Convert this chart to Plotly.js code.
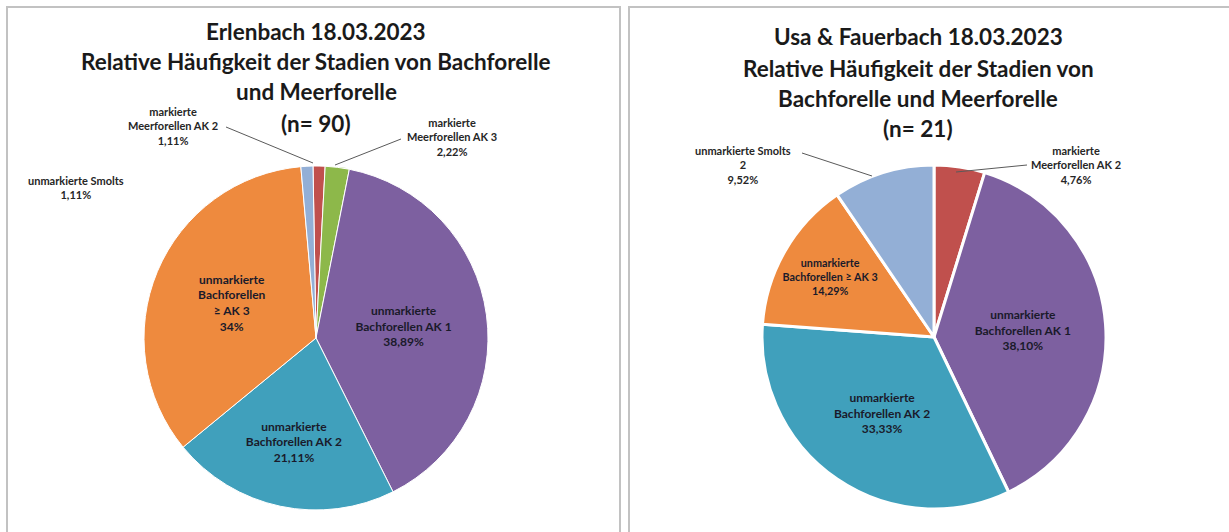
<!DOCTYPE html>
<html><head><meta charset="utf-8">
<script src="https://cdn.plot.ly/plotly-3.0.1.min.js"></script>
<style>html,body{margin:0;padding:0;background:#fff;overflow:hidden}#chart{width:1229px;height:532px}</style>
</head><body><div id="chart"></div>
<script>
// ---------- DATA ----------
const leftTitleLines = ["Erlenbach 18.03.2023", "Relative Häufigkeit der Stadien von Bachforelle", "und Meerforelle", "(n= 90)"];
const leftCategories = ["markierte Meerforellen AK 2", "markierte Meerforellen AK 3", "unmarkierte Bachforellen AK 1", "unmarkierte Bachforellen AK 2", "unmarkierte Bachforellen ≥ AK 3", "unmarkierte Smolts"];
const leftLabelText = ["markierte<br>Meerforellen AK 2", "markierte<br>Meerforellen AK 3", "unmarkierte<br>Bachforellen AK 1", "unmarkierte<br>Bachforellen AK 2", "unmarkierte<br>Bachforellen<br>≥ AK 3", "unmarkierte Smolts"];
const leftValues = [1.11, 2.22, 38.89, 21.11, 34, 1.11];

const rightTitleLines = ["Usa & Fauerbach 18.03.2023", "Relative Häufigkeit der Stadien von", "Bachforelle und Meerforelle", "(n= 21)"];
const rightCategories = ["markierte Meerforellen AK 2", "unmarkierte Bachforellen AK 1", "unmarkierte Bachforellen AK 2", "unmarkierte Bachforellen ≥ AK 3", "unmarkierte Smolts"];
const rightLabelText = ["markierte<br>Meerforellen AK 2", "unmarkierte<br>Bachforellen AK 1", "unmarkierte<br>Bachforellen AK 2", "unmarkierte<br>Bachforellen ≥ AK 3", "unmarkierte Smolts<br>2"];
const rightValues = [4.76, 38.10, 33.33, 14.29, 9.52];

// ---------- STYLE ----------
const W = 1229, H = 532;
const FONT = "Lato, 'Open Sans', sans-serif";
const colorOf = {
  "markierte Meerforellen AK 2": "#C0504D",
  "markierte Meerforellen AK 3": "#8DB84A",
  "unmarkierte Bachforellen AK 1": "#7D60A0",
  "unmarkierte Bachforellen AK 2": "#40A0BC",
  "unmarkierte Bachforellen ≥ AK 3": "#EE8A3E",
  "unmarkierte Smolts": "#93AFD6"
};
const px = x => x / W;
const py = y => 1 - y / H;
const pct = v => v.toFixed(2).replace(".", ",").replace(",00", "") + "%";

function pieTrace(cats, vals, labels, outsideIdx, cx, cy, r, lineW) {
  return {
    type: "pie", sort: false, direction: "clockwise", rotation: 0,
    labels: cats, values: vals,
    text: labels.map((l, i) => l + "<br>" + pct(vals[i])),
    textinfo: "text",
    textposition: cats.map((c, i) => outsideIdx.includes(i) ? "none" : "inside"),
    insidetextorientation: "horizontal",
    insidetextfont: {family: FONT, size: 12, color: "#1a1a2a", weight: "bold"},
    marker: {colors: cats.map(c => colorOf[c]), line: {color: "#ffffff", width: lineW}},
    domain: {x: [px(cx - r), px(cx + r)], y: [py(cy + r), py(cy - r)]},
    showlegend: false, hoverinfo: "label+percent"
  };
}

const left = pieTrace(leftCategories, leftValues, leftLabelText, [0, 1, 5], 316, 338, 172, 1);
left.rotation = -1;
const right = pieTrace(rightCategories, rightValues, rightLabelText, [0, 4], 934, 337, 172, 3);

const annotations = [];
function titleAnn(lines, cx, ys) {
  lines.forEach((t, i) => annotations.push({
    xref: "paper", yref: "paper", x: px(cx), y: py(ys[i]), xanchor: "center", yanchor: "middle",
    text: "<b>" + t + "</b>", showarrow: false, font: {family: FONT, size: 22.5, color: "#1a1a1a"}
  }));
}
titleAnn(leftTitleLines, 316, [31, 61, 92, 124]);
titleAnn(rightTitleLines, 918, [36, 68, 99, 128]);

function outLabel(labels, vals, i, x, y) {
  annotations.push({
    xref: "paper", yref: "paper", x: px(x), y: py(y), xanchor: "center", yanchor: "middle",
    text: "<b>" + labels[i] + "<br>" + pct(vals[i]) + "</b>", showarrow: false,
    font: {family: FONT, size: 11, color: "#262626"}
  });
}
outLabel(leftLabelText, leftValues, 0, 173, 126);
outLabel(leftLabelText, leftValues, 1, 452, 137);
outLabel(leftLabelText, leftValues, 5, 76, 188);
outLabel(rightLabelText, rightValues, 0, 1076, 165);
outLabel(rightLabelText, rightValues, 4, 743, 165);

const lineStyle = {color: "#5a5a5a", width: 1};
function leader(x0, y0, x1, y1) {
  return {type: "line", xref: "paper", yref: "paper", x0: px(x0), y0: py(y0), x1: px(x1), y1: py(y1), line: lineStyle};
}
const shapes = [
  {type: "rect", xref: "paper", yref: "paper", x0: px(7), x1: px(620), y0: py(545), y1: py(7), line: {color: "#c2c2c2", width: 2}},
  {type: "rect", xref: "paper", yref: "paper", x0: px(629), x1: px(1245), y0: py(545), y1: py(7), line: {color: "#c2c2c2", width: 2}},
  leader(226, 127, 313, 163),
  leader(401, 139, 335, 165),
  leader(802, 153, 872, 176),
  leader(1027, 165, 956, 172)
];

Plotly.newPlot("chart", [left, right], {
  width: W, height: H, margin: {l: 0, r: 0, t: 0, b: 0},
  paper_bgcolor: "#ffffff", plot_bgcolor: "#ffffff",
  annotations: annotations, shapes: shapes
}, {displayModeBar: false, staticPlot: true});
</script></body></html>
